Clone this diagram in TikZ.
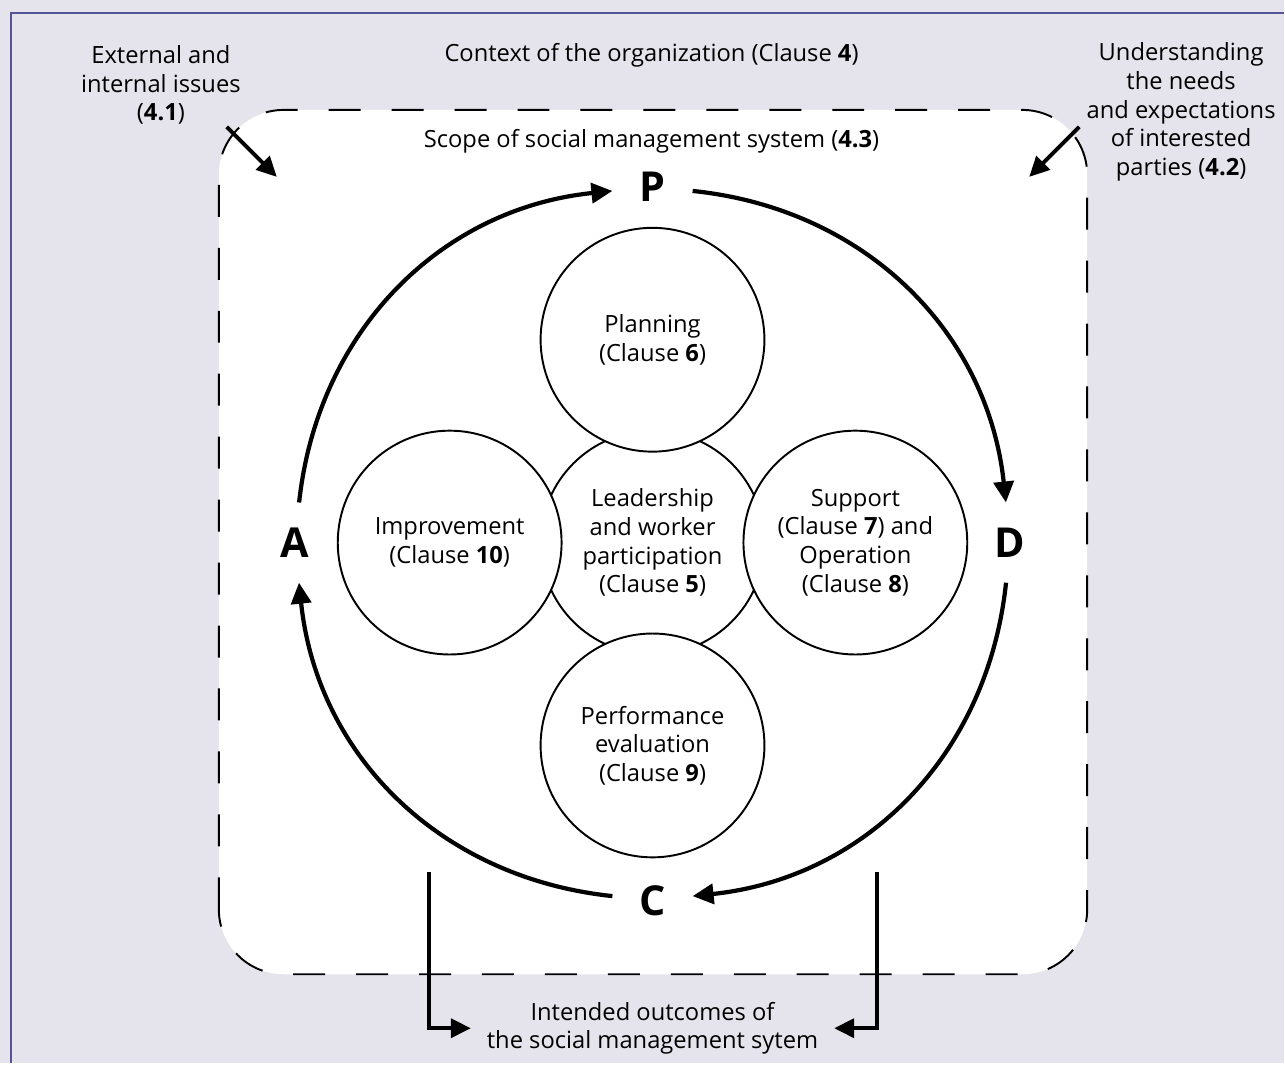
\documentclass[tikz,border=0pt]{standalone}
\usepackage{fontspec}
\setmainfont{Open Sans}
\usetikzlibrary{arrows.meta}
\definecolor{pagebg}{RGB}{229,228,236}
\definecolor{framecol}{RGB}{84,84,150}

\begin{document}
\begin{tikzpicture}[every node/.style={align=center, font=\fontsize{13.5}{16.3}\selectfont},
  clause/.style={circle, draw, fill=white, line width=1.1pt, minimum size=4.48cm, inner sep=0pt},
  letter/.style={circle, minimum size=1.6cm, inner sep=0pt, font=\fontsize{23.5}{26}\selectfont\bfseries},
  cycle/.style={line width=2.4pt, -{Triangle[length=0.42cm,width=0.4cm]}},
  feed/.style={line width=2.2pt, -{Triangle[length=0.4cm,width=0.38cm]}}]
\fill[pagebg] (0,0) rectangle (25.7,21.28);
\draw[framecol, line width=1.1pt] (0.22,0) -- (0.22,21.02) -- (25.7,21.02);
\draw[fill=white, line width=1.1pt, dash pattern=on 0.64cm off 0.62cm, rounded corners=1.3cm] (4.38,1.78) rectangle (21.76,19.08);

\node (context) at (13.04,20.18) {Context of the organization (Clause \textbf{4})};
\node (external) at (3.22,19.58) {External and\\internal issues\\(\textbf{4.1})};
\node (needs) at (23.64,19.04) {Understanding\\the needs\\and expectations\\of interested\\parties (\textbf{4.2})};
\node (scope) at (13.04,18.46) {Scope of social management system (\textbf{4.3})};

\node[clause] (leader) at (13.06,10.42) {Leadership\\and worker\\participation\\(Clause \textbf{5})};
\node[clause] (plan) at (13.06,14.48) {Planning\\(Clause \textbf{6})};
\node[clause] (improve) at (9.0,10.42) {Improvement\\(Clause \textbf{10})};
\node[clause] (support) at (17.12,10.42) {Support\\(Clause \textbf{7}) and\\Operation\\(Clause \textbf{8})};
\node[clause] (perform) at (13.06,6.36) {Performance\\evaluation\\(Clause \textbf{9})};

\node[letter] (P) at (13.06,17.54) {P};
\node[letter] (D) at (20.22,10.42) {D};
\node[letter] (C) at (13.06,3.26) {C};
\node[letter] (A) at (5.9,10.42) {A};
\draw[cycle] (A) to[bend left=39] (P);
\draw[cycle] (P) to[bend left=39] (D);
\draw[cycle] (D) to[bend left=39] (C);
\draw[cycle] (C) to[bend left=39] (A);

\coordinate (exttail) at (4.54,18.74);
\coordinate (exthead) at (5.54,17.74);
\coordinate (needtail) at (21.6,18.74);
\coordinate (needhead) at (20.6,17.74);
\draw[feed] (exttail) -- (exthead);
\draw[feed] (needtail) -- (needhead);

\node[minimum width=7.26cm, inner sep=0pt] (outcome) at (13.06,0.70) {Intended outcomes of\\the social management sytem};
\coordinate (lout) at (8.58,3.82);
\coordinate (rout) at (17.56,3.82);
\draw[feed] (lout) |- (outcome);
\draw[feed] (rout) |- (outcome);
\end{tikzpicture}
\end{document}
